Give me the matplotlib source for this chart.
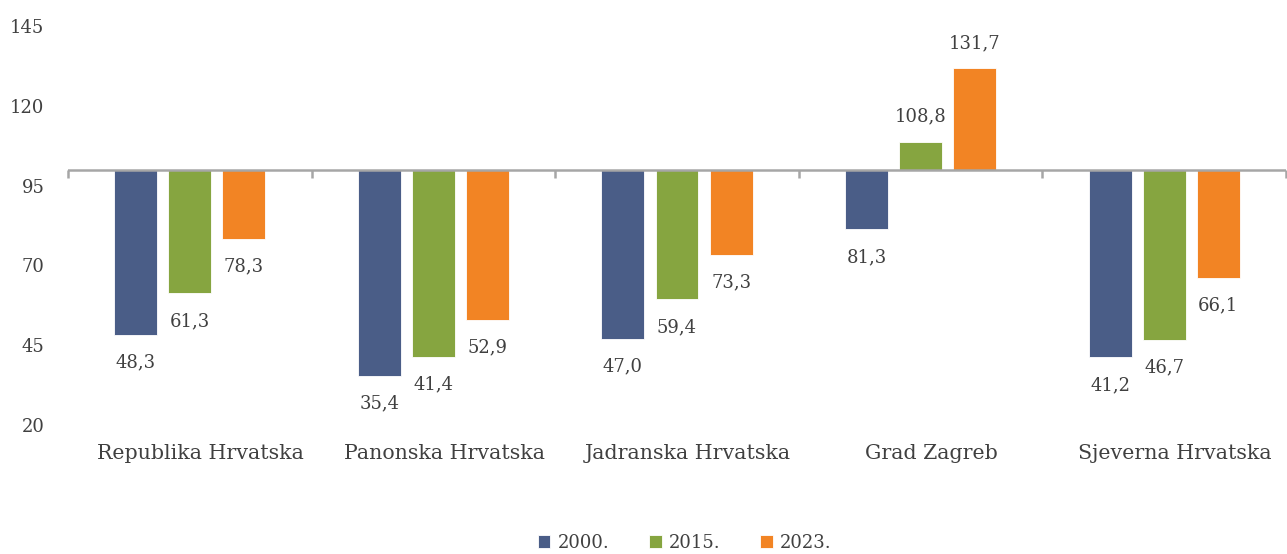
import matplotlib
matplotlib.use("Agg")
import matplotlib.pyplot as plt
import matplotlib.transforms as mtransforms
import numpy as np

categories = ["Republika Hrvatska", "Panonska Hrvatska", "Jadranska Hrvatska", "Grad Zagreb", "Sjeverna Hrvatska"]
series_names = ["2000.", "2015.", "2023."]
v2000 = [48.3, 35.4, 47.0, 81.3, 41.2]
v2015 = [61.3, 41.4, 59.4, 108.8, 46.7]
v2023 = [78.3, 52.9, 73.3, 131.7, 66.1]
yticks = [20, 45, 70, 95, 120, 145]
baseline = 100

colors = ["#4a5d87", "#86a540", "#f28424"]
text_color = "#404040"
axis_color = "#a6a6a6"

plt.rcParams['font.family'] = ['DejaVu Serif']

fig = plt.figure(figsize=(12.87, 5.54), dpi=100)
ax = fig.add_axes([68/1287, 129/554, (1286-68)/1287, (425-26)/554])

x = np.arange(len(categories))
width = 0.176
offset = 0.222
fs = 13

for i, (vals, c, name) in enumerate(zip([v2000, v2015, v2023], colors, series_names)):
    xs = x + (i - 1) * offset
    heights = [v - baseline for v in vals]
    ax.bar(xs, heights, width, bottom=baseline, color=c, label=name,
           edgecolor="white", linewidth=0.6, zorder=2)
    for xi, v in zip(xs, vals):
        lab = f"{v:.1f}".replace(".", ",")
        dy = -20 if v < baseline else 18
        ax.annotate(lab, (xi, v), xytext=(0, dy), textcoords="offset points",
                    ha="center", va="center", fontsize=fs, color=text_color)

ax.set_xlim(-0.5, len(categories) - 0.5)
ax.set_ylim(20, 145)
ax.set_yticks(yticks)
ax.tick_params(axis="y", length=0, pad=17, labelsize=fs, labelcolor=text_color)
ax.set_xticks(x)
ax.set_xticklabels(categories)
ax.tick_params(axis="x", length=0, pad=14, labelsize=14.8, labelcolor=text_color)
shift = mtransforms.ScaledTranslation(0.11, 0, fig.dpi_scale_trans)
for lbl in ax.get_xticklabels():
    lbl.set_transform(lbl.get_transform() + shift)
for s in ax.spines.values():
    s.set_visible(False)

# baseline axis line with boundary ticks
ax.axhline(baseline, color=axis_color, lw=1.8, zorder=3)
sec = ax.secondary_xaxis((baseline - 20) / (145 - 20))
sec.set_xticks(np.arange(len(categories) + 1) - 0.5)
sec.set_xticklabels([])
sec.tick_params(axis="x", which="both", direction="out", length=6, width=1.8,
                color=axis_color, bottom=True, top=False)
for s in sec.spines.values():
    s.set_visible(False)

fig.legend(loc="lower center", bbox_to_anchor=(0.532, -0.025), ncol=3, frameon=False,
           fontsize=fs, handlelength=0.7, handleheight=0.7, handletextpad=0.4,
           columnspacing=2.2, labelcolor=text_color)

fig.savefig("out.png", dpi=100)
